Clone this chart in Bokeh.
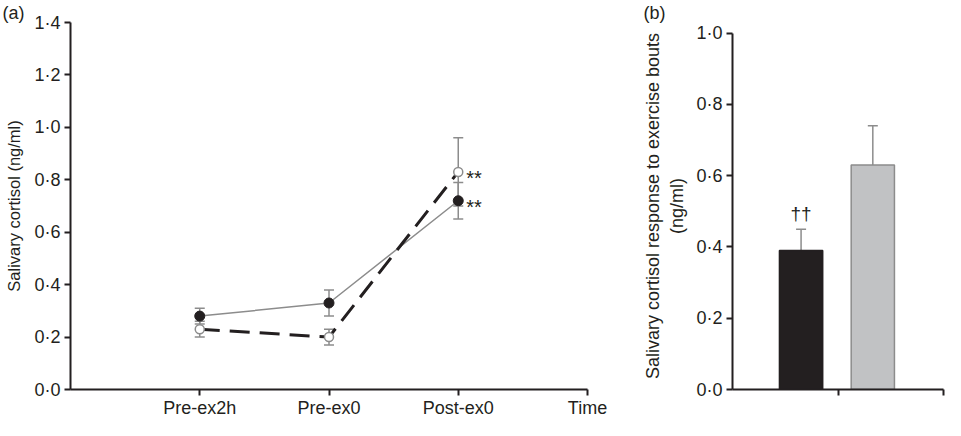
from bokeh.plotting import figure
from bokeh.layouts import row
from bokeh.models import (Range1d, FixedTicker, CustomJSTickFormatter, Whisker,
                          ColumnDataSource, TeeHead)
from bokeh.core.properties import value
from bokeh.embed import file_html
from bokeh.resources import INLINE

# ---------------- data ----------------
time_labels = ["Pre-ex2h", "Pre-ex0", "Post-ex0"]
time_pos = [1, 2, 3]
filled_mean = [0.28, 0.33, 0.72]
filled_err = [0.03, 0.05, 0.07]
open_mean = [0.23, 0.20, 0.83]
open_err = [0.03, 0.03, 0.13]

bar_vals = [0.39, 0.63]
bar_err = [0.06, 0.11]
bar_pos = [0.65, 1.33]

FONT = "Liberation Sans"
INK = "#231f20"
GREY = "#8c8c8c"

dot_fmt = CustomJSTickFormatter(code="return tick.toFixed(1).replace('.', '\u00b7');")


def style_axes(p, label_size):
    for ax in (p.xaxis[0], p.yaxis[0]):
        ax.axis_line_width = 2
        ax.axis_line_color = INK
        ax.major_tick_line_width = 2
        ax.major_tick_line_color = INK
        ax.major_tick_out = 6
        ax.major_tick_in = 0
        ax.minor_tick_line_color = None
        ax.major_label_text_font = FONT
        ax.major_label_text_font_size = "18px"
        ax.major_label_text_color = INK
        ax.major_label_standoff = 4
        ax.axis_label_text_font = FONT
        ax.axis_label_text_font_size = label_size
        ax.axis_label_text_font_style = "normal"
        ax.axis_label_text_color = INK
    p.xaxis.axis_label_standoff = 0
    p.xaxis.axis_label_text_font_size = "0px"
    p.xaxis.major_label_standoff = 2
    p.grid.visible = False
    p.outline_line_color = None
    p.title.text_font = FONT
    p.title.text_font_size = "18px"
    p.title.text_font_style = "normal"
    p.title.text_color = INK
    p.title.align = "left"
    p.title.standoff = 0


H = 420

# ---------------- panel (a) ----------------
p1 = figure(width=640, height=H, x_range=Range1d(0, 4), y_range=Range1d(0, 1.4),
            output_backend="svg", toolbar_location=None, title="(a)",
            min_border_left=70, min_border_right=53, min_border_top=22, min_border_bottom=0)
style_axes(p1, "16.5px")
p1.title.offset = -68
p1.xaxis.ticker = FixedTicker(ticks=[1, 2, 3, 4])
p1.xaxis.major_label_overrides = {1: time_labels[0], 2: time_labels[1], 3: time_labels[2], 4: "Time"}
p1.yaxis.ticker = FixedTicker(ticks=[0, 0.2, 0.4, 0.6, 0.8, 1.0, 1.2, 1.4])
p1.yaxis.formatter = dot_fmt
p1.yaxis.axis_label = "Salivary cortisol (ng/ml)"
p1.yaxis.axis_label_standoff = 8

src_f = ColumnDataSource(dict(x=time_pos, y=filled_mean,
                              lo=[m - e for m, e in zip(filled_mean, filled_err)],
                              hi=[m + e for m, e in zip(filled_mean, filled_err)]))
src_o = ColumnDataSource(dict(x=time_pos, y=open_mean,
                              lo=[m - e for m, e in zip(open_mean, open_err)],
                              hi=[m + e for m, e in zip(open_mean, open_err)]))
for s in (src_f, src_o):
    w = Whisker(base="x", lower="lo", upper="hi", source=s, line_color=GREY, line_width=1.5,
                upper_head=TeeHead(size=10, line_color=GREY, line_width=1.5),
                lower_head=TeeHead(size=10, line_color=GREY, line_width=1.5))
    p1.add_layout(w)

p1.line("x", "y", source=src_f, line_color=GREY, line_width=1.5)
p1.line("x", "y", source=src_o, line_color=INK, line_width=3, line_dash="20 10")
p1.scatter("x", "y", source=src_f, size=10, fill_color=INK, line_color=INK)
p1.scatter("x", "y", source=src_o, size=9, fill_color="white", line_color=GREY, line_width=1.5)
p1.text(x=[time_pos[2], time_pos[2]], y=[open_mean[2], filled_mean[2]], text=["**", "**"],
        x_offset=8, y_offset=6, text_baseline="middle", text_align="left",
        text_font=value(FONT), text_font_size="20px", text_color=INK)

# ---------------- panel (b) ----------------
p2 = figure(width=305, height=H, x_range=Range1d(0, 2), y_range=Range1d(0, 1.03),
            output_backend="svg", toolbar_location=None, title="(b)",
            min_border_left=89, min_border_right=2, min_border_top=22, min_border_bottom=0)
style_axes(p2, "18px")
p2.title.offset = -89
p2.xaxis.ticker = FixedTicker(ticks=[1, 2])
p2.xaxis.major_label_text_color = None
p2.yaxis.ticker = FixedTicker(ticks=[0, 0.2, 0.4, 0.6, 0.8, 1.0])
p2.yaxis.bounds = (0, 1.0)
p2.yaxis.formatter = dot_fmt
p2.yaxis.axis_label = "Salivary cortisol response to exercise bouts\n(ng/ml)"
p2.yaxis.axis_label_standoff = 6

src_b = ColumnDataSource(dict(x=bar_pos, top=bar_vals,
                              hi=[v + e for v, e in zip(bar_vals, bar_err)],
                              fill=[INK, "#c1c2c4"], line=[INK, GREY]))
p2.add_layout(Whisker(base="x", lower="top", upper="hi", source=src_b, line_color=GREY,
                      line_width=1.5, upper_head=TeeHead(size=10, line_color=GREY, line_width=1.5),
                      lower_head=None))
p2.vbar(x="x", top="top", width=0.41, source=src_b, fill_color="fill", line_color="line",
        line_width=1.5)
p2.text(x=[bar_pos[0]], y=[bar_vals[0] + bar_err[0]], text=["\u2020\u2020"], y_offset=-5,
        text_baseline="bottom", text_align="center", text_font=value(FONT),
        text_font_size="19px", text_color=INK)

layout = row(p1, p2)
open("out.html", "w").write(file_html(layout, INLINE))
